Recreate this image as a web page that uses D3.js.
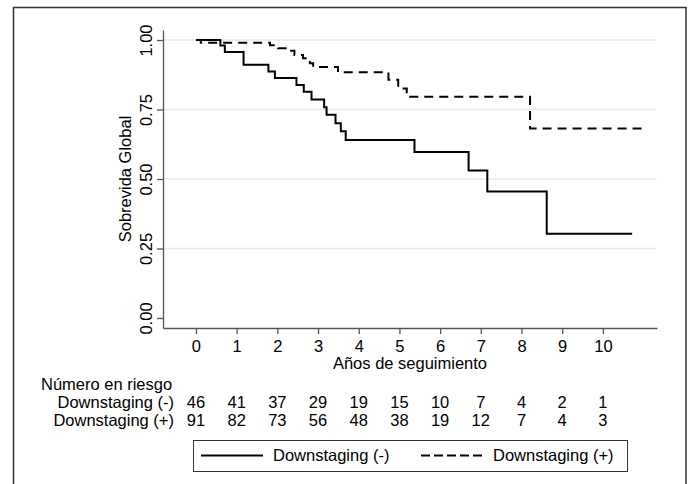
<!DOCTYPE html>
<html>
<head>
<meta charset="utf-8">
<script src="https://cdn.jsdelivr.net/npm/d3@7"></script>
<style>
  body { margin: 0; background: #fff; }
  svg { display: block; font-family: "Liberation Sans", Arial, sans-serif; }
</style>
</head>
<body>
<div id="chart"></div>
<script>
// Kaplan-Meier curves
const years = [0, 1, 2, 3, 4, 5, 6, 7, 8, 9, 10]; // x ticks and risk table columns
const yTicks = [0, 0.25, 0.5, 0.75, 1];

// Downstaging (-): step times and survival after each step
const timesNeg = [0, 0.60, 0.71, 1.17, 1.78, 1.94, 2.47, 2.65, 2.84, 3.15, 3.21, 3.43, 3.56, 3.68, 5.37, 6.70, 7.16, 8.62, 10.72];
const survNeg  = [1, 0.980, 0.957, 0.911, 0.887, 0.863, 0.838, 0.814, 0.786, 0.758, 0.731, 0.701, 0.672, 0.640, 0.597, 0.531, 0.455, 0.303, 0.303];

// Downstaging (+)
const timesPos = [0, 0.12, 1.82, 2.02, 2.23, 2.42, 2.63, 2.80, 2.88, 3.49, 4.73, 4.97, 5.18, 8.21, 11.08];
const survPos  = [1, 0.990, 0.981, 0.970, 0.961, 0.946, 0.934, 0.916, 0.903, 0.884, 0.857, 0.826, 0.796, 0.682, 0.682];

// numbers at risk
const riskNeg = [46, 41, 37, 29, 19, 15, 10, 7, 4, 2, 1];
const riskPos = [91, 82, 73, 56, 48, 38, 19, 12, 7, 4, 3];

const groups = ["Downstaging (-)", "Downstaging (+)"];

const width = 688;
const height = 484;
const fs = 16.5; // font size used everywhere

const svg = d3.select("#chart").append("svg")
    .attr("width", width)
    .attr("height", height);

// outer frame
svg.append("rect")
    .attr("x", 13.5).attr("y", 7.5)
    .attr("width", 672.5).attr("height", 490)
    .attr("fill", "none")
    .attr("stroke", "#333")
    .attr("stroke-width", 1.5);

const xScale = d3.scaleLinear().domain([-0.81, 11.33]).range([163, 657]);
const yScale = d3.scaleLinear().domain([-0.036, 1.036]).range([328, 30]);

// horizontal grid lines
svg.append("g")
    .selectAll("line")
    .data(yTicks.filter(d => d > 0))
    .join("line")
    .attr("x1", xScale.range()[0])
    .attr("x2", xScale.range()[1])
    .attr("y1", d => yScale(d))
    .attr("y2", d => yScale(d))
    .attr("stroke", "#e9e9e9")
    .attr("stroke-width", 1.5);

// y axis, labels rotated like Stata does
const yAxis = svg.append("g")
    .attr("transform", `translate(${xScale.range()[0]},0)`)
    .call(d3.axisLeft(yScale).tickValues(yTicks).tickFormat(d3.format(".2f")).tickSize(6).tickSizeOuter(0));
yAxis.selectAll("text")
    .attr("x", 0)
    .attr("y", -11)
    .attr("dy", 0)
    .attr("transform", "rotate(-90)")
    .style("text-anchor", "middle");

// x axis
const xAxis = svg.append("g")
    .attr("transform", `translate(0,${yScale.range()[0]})`)
    .call(d3.axisBottom(xScale).tickValues(years).tickSize(6).tickPadding(6).tickSizeOuter(0));

[yAxis, xAxis].forEach(ax => {
    ax.selectAll("path, line").attr("stroke", "#555").attr("stroke-width", 1.3);
    ax.selectAll("text").attr("font-size", fs).attr("fill", "#000").attr("font-family", null);
});

svg.append("text")
    .attr("transform", `translate(131,${(yScale.range()[0] + yScale.range()[1]) / 2}) rotate(-90)`)
    .attr("text-anchor", "middle")
    .attr("font-size", fs)
    .text("Sobrevida Global");

svg.append("text")
    .attr("x", (xScale.range()[0] + xScale.range()[1]) / 2)
    .attr("y", 369)
    .attr("text-anchor", "middle")
    .attr("font-size", fs)
    .text("Años de seguimiento");

// the curves
const line = d3.line()
    .x(d => xScale(d[0]))
    .y(d => yScale(d[1]))
    .curve(d3.curveStepAfter);

svg.append("path")
    .datum(d3.zip(timesNeg, survNeg))
    .attr("fill", "none")
    .attr("stroke", "#000")
    .attr("stroke-width", 2)
    .attr("d", line);

svg.append("path")
    .datum(d3.zip(timesPos, survPos))
    .attr("fill", "none")
    .attr("stroke", "#000")
    .attr("stroke-width", 2)
    .attr("stroke-dasharray", "9,6")
    .attr("d", line);

// number at risk table
svg.append("text")
    .attr("x", 41).attr("y", 390)
    .attr("font-size", fs)
    .text("Número en riesgo");

const rowY = [408, 426];
[riskNeg, riskPos].forEach((row, k) => {
    svg.append("text")
        .attr("x", 174).attr("y", rowY[k])
        .attr("text-anchor", "end")
        .attr("font-size", fs)
        .text(groups[k]);
    svg.append("g")
        .selectAll("text")
        .data(row)
        .join("text")
        .attr("x", (d, i) => xScale(years[i]))
        .attr("y", rowY[k])
        .attr("text-anchor", "middle")
        .attr("font-size", fs)
        .text(d => d);
});

// legend
const legend = svg.append("g");
legend.append("rect")
    .attr("x", 193.5).attr("y", 440.5)
    .attr("width", 434).attr("height", 31)
    .attr("fill", "none")
    .attr("stroke", "#333")
    .attr("stroke-width", 1);

const legendItems = [
    {x: 201, dash: null},
    {x: 421, dash: "9,4"}
];
legendItems.forEach((it, k) => {
    legend.append("line")
        .attr("x1", it.x).attr("x2", it.x + 62)
        .attr("y1", 455.5).attr("y2", 455.5)
        .attr("stroke", "#000")
        .attr("stroke-width", 2)
        .attr("stroke-dasharray", it.dash);
    legend.append("text")
        .attr("x", it.x + 72).attr("y", 461)
        .attr("font-size", fs)
        .text(groups[k]);
});
</script>
</body>
</html>
